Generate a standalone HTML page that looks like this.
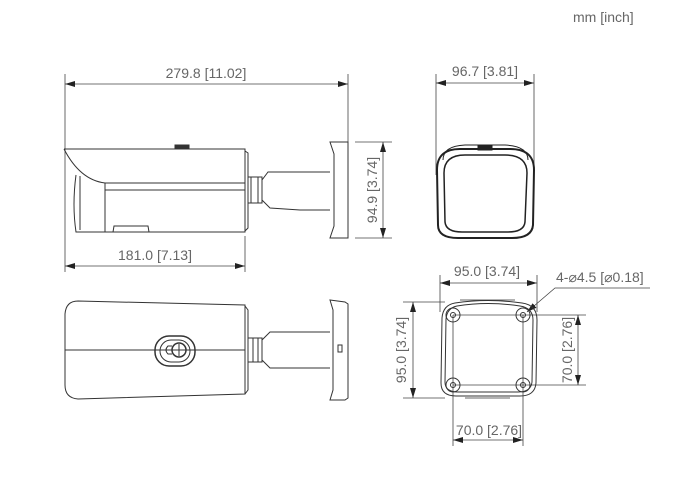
<!DOCTYPE html>
<html><head><meta charset="utf-8"><style>
html,body{margin:0;padding:0;background:#fff;width:700px;height:484px;overflow:hidden}
svg{display:block}
text{font-family:"Liberation Sans",sans-serif;font-size:14px;fill:#666}
</style></head><body>
<svg width="700" height="484" viewBox="0 0 700 484" xmlns="http://www.w3.org/2000/svg">
<defs>
<marker id="a" viewBox="0 0 10 6" refX="10" refY="3" markerWidth="10" markerHeight="6" orient="auto-start-reverse" markerUnits="userSpaceOnUse"><path d="M0,0 L10,3 L0,6 Z" fill="#222"/></marker>
</defs>
<text x="573" y="22">mm [inch]</text>

<g stroke="#444" stroke-width="0.8" fill="none">
<line x1="65" y1="74" x2="65" y2="272"/>
<line x1="348" y1="74" x2="348" y2="148"/>
<line x1="65" y1="84" x2="348" y2="84" marker-start="url(#a)" marker-end="url(#a)"/>
<line x1="245" y1="236" x2="245" y2="272"/>
<line x1="65" y1="266" x2="245" y2="266" marker-start="url(#a)" marker-end="url(#a)"/>
<line x1="355" y1="142" x2="392" y2="142"/>
<line x1="355" y1="238" x2="392" y2="238"/>
<line x1="383" y1="142" x2="383" y2="238" marker-start="url(#a)" marker-end="url(#a)"/>
</g>
<text x="206" y="78" text-anchor="middle">279.8 [11.02]</text>
<text x="155" y="260" text-anchor="middle">181.0 [7.13]</text>
<text transform="translate(377,190) rotate(-90)" text-anchor="middle">94.9 [3.74]</text>

<g stroke="#333" stroke-width="1" fill="none">
<path d="M64,149 L245,149 L245,232 L105,232 L105,183"/>
<path d="M64,149 Q80,180 105,183 L245,183"/>
<path d="M105,190 L245,190"/>
<path d="M76,175 Q72,205 76,232 L105,232"/>
<path d="M80,176 L80,230"/>
<rect x="175" y="145" width="14" height="4" fill="#333"/>
<path d="M113,232 L114,226 L148,226 L149,232"/>
<path d="M245,151 L248,153 L248,228 L245,231"/>
<rect x="248" y="177" width="14" height="26"/>
<path d="M251,177 L251,203 M258,177 L258,203"/>
<path d="M262,180 L268,172 L330,172 M262,200 L270,208 L300,210 L330,210"/>
<path d="M330,142 L348,142 L348,238 L330,238 L334,226 L334,154 Z"/>
</g>

<g stroke="#444" stroke-width="0.8" fill="none">
<line x1="436" y1="74" x2="436" y2="175"/>
<line x1="534" y1="74" x2="534" y2="175"/>
<line x1="436" y1="83" x2="534" y2="83" marker-start="url(#a)" marker-end="url(#a)"/>
</g>
<text x="485" y="76" text-anchor="middle">96.7 [3.81]</text>
<g stroke="#222" fill="none">
<path d="M443,160 Q443,146 465,145 L505,145 Q528,146 528,160" stroke-width="1"/>
<path d="M437,170 Q437,148 462,149 L508,149 Q534,148 534,170 L533,225 Q532,238 512,238 L458,238 Q438,238 438,225 Z" stroke-width="2"/>
<path d="M444,173 Q444,155 465,155 L505,155 Q527,155 527,173 L525,222 Q524,232 508,232 L462,232 Q446,232 445,222 Z" stroke-width="1.5"/>
<rect x="478" y="146" width="14" height="4" fill="#222"/>
</g>

<g stroke="#333" stroke-width="1" fill="none">
<path d="M78,301 L245,305 L245,394 L78,399 Q65,398 65,385 L65,314 Q66,301 78,301 Z"/>
<line x1="65" y1="350" x2="245" y2="350"/>
<path d="M245,306 L248,310 L248,390 L245,394"/>
<rect x="155" y="336" width="40" height="30" rx="14" stroke-width="1.5"/>
<rect x="160" y="340" width="30" height="22" rx="11"/>
<path d="M172,346 L168,346 Q164,350 168,354 L172,354"/>
<circle cx="179" cy="350" r="7" stroke-width="1.5"/>
<line x1="179" y1="344" x2="179" y2="356"/>
<rect x="248" y="338" width="14" height="24"/>
<path d="M253,338 L253,362 M258,338 L258,362"/>
<path d="M262,340 L270,332 L330,332 M262,360 L270,368 L330,368"/>
<path d="M330,300 L345,302 L348,304 L348,398 L345,400 L330,400 L333,390 L333,310 Z"/>
<rect x="338" y="345" width="4" height="7"/>
</g>

<g stroke="#444" stroke-width="0.8" fill="none">
<line x1="440" y1="275" x2="440" y2="312"/>
<line x1="537" y1="275" x2="537" y2="312"/>
<line x1="440" y1="283" x2="537" y2="283" marker-start="url(#a)" marker-end="url(#a)"/>
<line x1="403" y1="302" x2="445" y2="302"/>
<line x1="403" y1="398" x2="445" y2="398"/>
<line x1="413" y1="302" x2="413" y2="398" marker-start="url(#a)" marker-end="url(#a)"/>
<line x1="523" y1="315" x2="586" y2="315"/>
<line x1="523" y1="385" x2="586" y2="385"/>
<line x1="578" y1="315" x2="578" y2="385" marker-start="url(#a)" marker-end="url(#a)"/>
<line x1="453" y1="315" x2="453" y2="446"/>
<line x1="523" y1="315" x2="523" y2="446"/>
<line x1="453" y1="440" x2="523" y2="440" marker-start="url(#a)" marker-end="url(#a)"/>
<line x1="453" y1="315" x2="523" y2="315"/>
<line x1="453" y1="385" x2="523" y2="385"/>
<path d="M650,288 L555,288 L527,312" marker-end="url(#a)"/>
</g>
<text x="487" y="276" text-anchor="middle">95.0 [3.74]</text>
<text transform="translate(406,350) rotate(-90)" text-anchor="middle">95.0 [3.74]</text>
<text transform="translate(572,350) rotate(-90)" text-anchor="middle">70.0 [2.76]</text>
<text x="489" y="435" text-anchor="middle">70.0 [2.76]</text>
<text x="556" y="282">4-⌀4.5 [⌀0.18]</text>
<g stroke="#333" fill="none">
<path d="M455,303 Q488,298 522,303 Q537,305 537,320 L536,383 Q535,396 520,396 L456,396 Q441,396 441,383 L442,318 Q443,305 455,303 Z" stroke-width="1"/>
<path d="M457,306 Q488,301 520,306 Q533,308 533,320 L532,382 Q531,392 518,392 L458,392 Q445,392 445,382 L446,319 Q447,308 457,306 Z" stroke-width="1"/>
<path d="M460,300 L515,300 M465,398 L510,398" stroke-width="0.8"/>
<circle cx="453" cy="315" r="7"/><circle cx="453" cy="315" r="2.5"/>
<circle cx="523" cy="315" r="7"/><circle cx="523" cy="315" r="2.5"/>
<circle cx="453" cy="385" r="7"/><circle cx="453" cy="385" r="2.5"/>
<circle cx="523" cy="385" r="7"/><circle cx="523" cy="385" r="2.5"/>
</g>
</svg>
</body></html>
